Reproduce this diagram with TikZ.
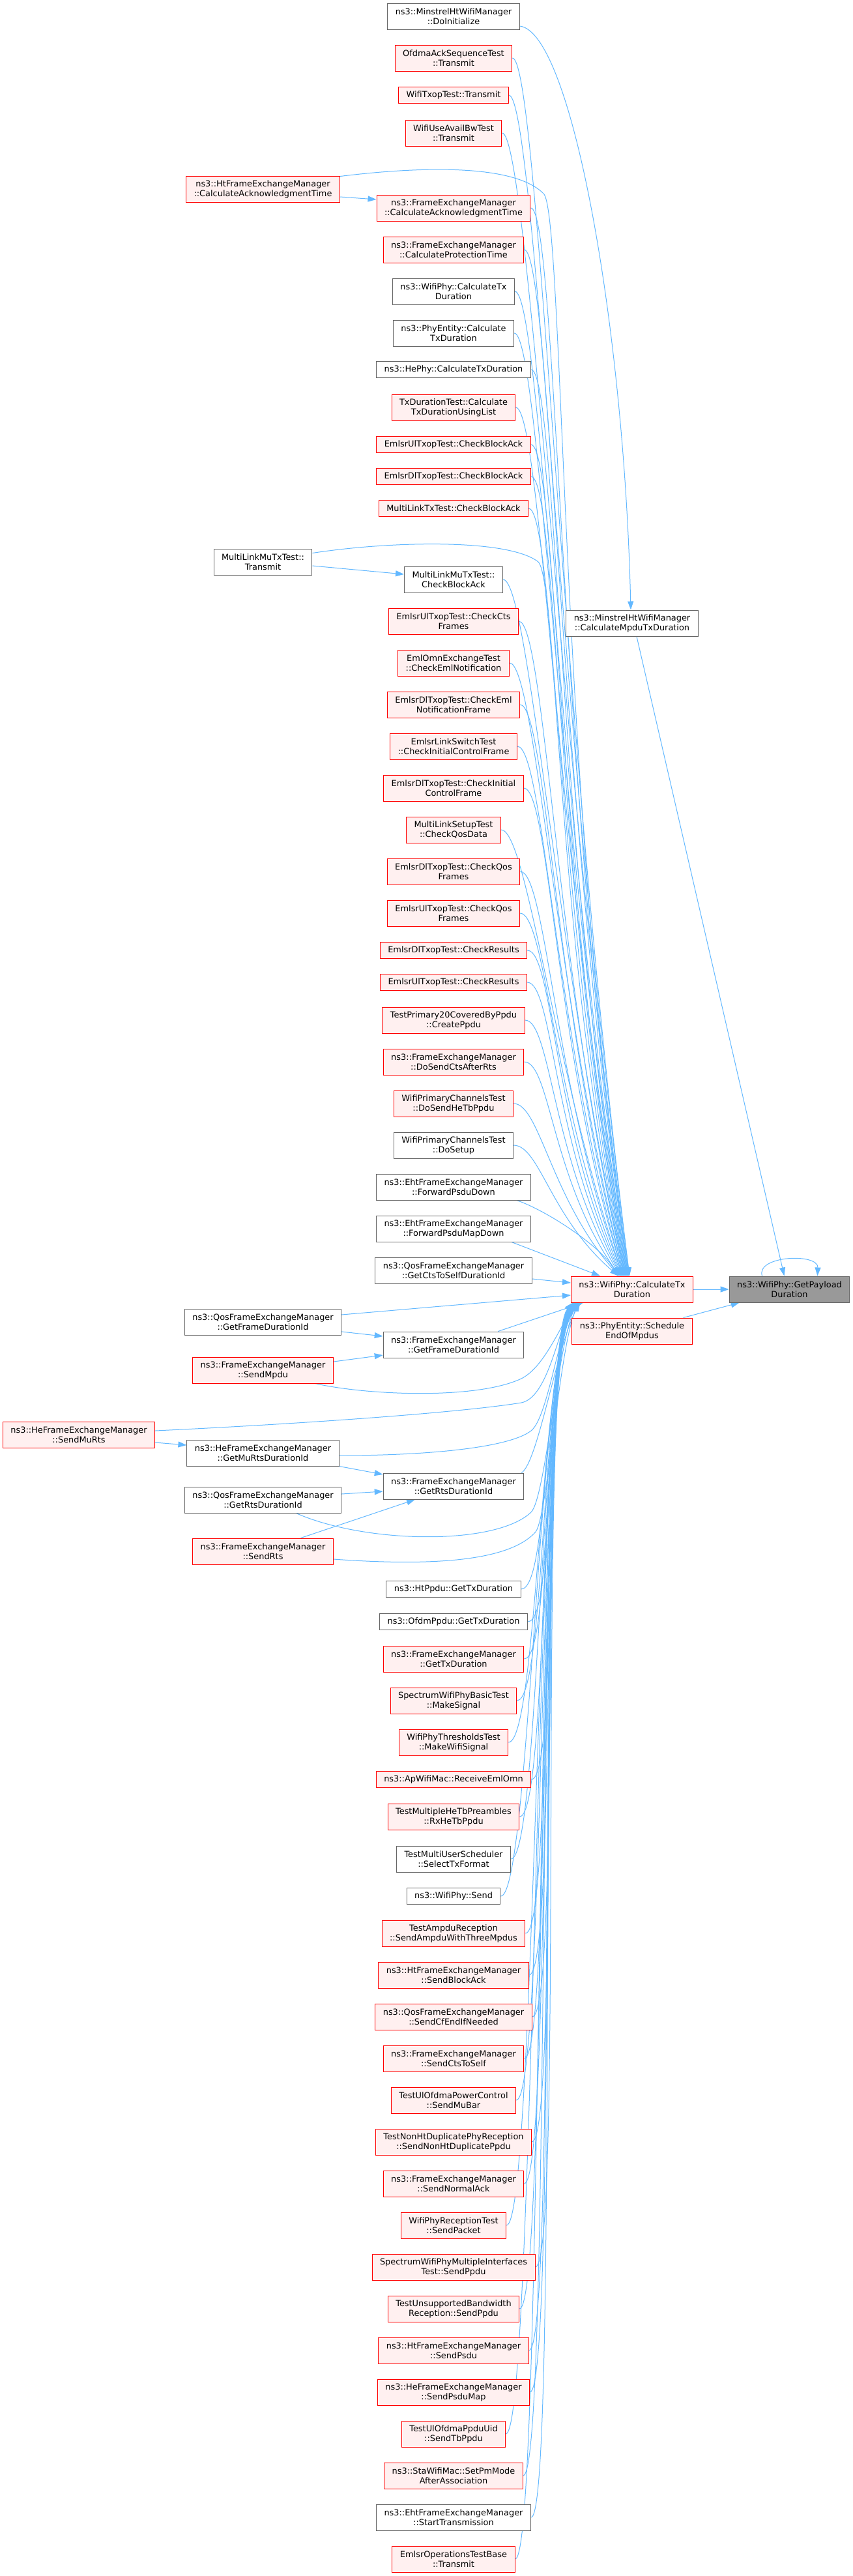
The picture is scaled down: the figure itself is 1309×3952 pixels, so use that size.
\documentclass[tikz,border=0pt]{standalone}
\usepackage{fontspec}
\setmainfont{DejaVu Sans}
\usepackage{tikz}
\usetikzlibrary{arrows.meta,backgrounds}
\definecolor{edgeblue}{HTML}{63B8FF}
\definecolor{boxgray}{HTML}{666666}
\definecolor{boxpink}{HTML}{FFF0F0}
\definecolor{boxred}{HTML}{FF0000}
\definecolor{maingray}{HTML}{999999}
\newcommand{\doxfont}{\fontsize{12.9pt}{15pt}\selectfont}

\begin{document}
\begin{tikzpicture}[x=1pt, y=-1pt,
    fnbox/.style={draw=boxgray, fill=white, line width=1pt, inner xsep=12pt, inner ysep=1pt, align=center, font=\doxfont},
    fnred/.style={fnbox, draw=boxred, fill=boxpink},
    fnmain/.style={fnbox, fill=maingray},
    two/.style={minimum height=40pt},
    one/.style={minimum height=25pt},
    calls/.style={draw=edgeblue, line width=1pt, -{Triangle[length=13pt,width=9pt]}}]
    \useasboundingbox (0,0) rectangle (1309,3952);

    % called functions
    \node[fnmain, two] (payload) at (1211.5,1978) {ns3::WifiPhy::GetPayload\\Duration};
    \node[fnred, two] (calctx) at (970,1978) {ns3::WifiPhy::CalculateTx\\Duration};
    \node[fnbox, two] (mpdutx) at (970,956) {ns3::MinstrelHtWifiManager\\::CalculateMpduTxDuration};
    \node[fnred, two] (schedmpdus) at (970,2042) {ns3::PhyEntity::Schedule\\EndOfMpdus};

    % callers of CalculateTxDuration
    \node[fnbox, two] (doinit) at (696,25) {ns3::MinstrelHtWifiManager\\::DoInitialize};
    \node[fnred, two] (ofdmatx) at (696,89) {OfdmaAckSequenceTest\\::Transmit};
    \node[fnred, one] (txoptx) at (696,146) {WifiTxopTest::Transmit};
    \node[fnred, two] (availbwtx) at (696,204) {WifiUseAvailBwTest\\::Transmit};
    \node[fnred, two] (fecalcack) at (696,319) {ns3::FrameExchangeManager\\::CalculateAcknowledgmentTime};
    \node[fnred, two] (fecalcprot) at (696,383) {ns3::FrameExchangeManager\\::CalculateProtectionTime};
    \node[fnbox, two] (phycalctx) at (696,447) {ns3::WifiPhy::CalculateTx\\Duration};
    \node[fnbox, two] (entitycalc) at (696,511) {ns3::PhyEntity::Calculate\\TxDuration};
    \node[fnbox, one] (hephycalc) at (696,567) {ns3::HePhy::CalculateTxDuration};
    \node[fnred, two] (txdurlist) at (696,625) {TxDurationTest::Calculate\\TxDurationUsingList};
    \node[fnred, one] (ulcheckba) at (696,682) {EmlsrUlTxopTest::CheckBlockAck};
    \node[fnred, one] (dlcheckba) at (696,731) {EmlsrDlTxopTest::CheckBlockAck};
    \node[fnred, one] (mltxcheckba) at (696,780) {MultiLinkTxTest::CheckBlockAck};
    \node[fnbox, two] (mlmucheckba) at (696,889) {MultiLinkMuTxTest::\\CheckBlockAck};
    \node[fnred, two] (ulctsframes) at (696,953) {EmlsrUlTxopTest::CheckCts\\Frames};
    \node[fnred, two] (omnnotif) at (696,1017) {EmlOmnExchangeTest\\::CheckEmlNotification};
    \node[fnred, two] (dlnotifframe) at (696,1081) {EmlsrDlTxopTest::CheckEml\\NotificationFrame};
    \node[fnred, two] (linkswitch) at (696,1145) {EmlsrLinkSwitchTest\\::CheckInitialControlFrame};
    \node[fnred, two] (dlinitctrl) at (696,1209) {EmlsrDlTxopTest::CheckInitial\\ControlFrame};
    \node[fnred, two] (mlsetupqos) at (696,1273) {MultiLinkSetupTest\\::CheckQosData};
    \node[fnred, two] (dlqosframes) at (696,1337) {EmlsrDlTxopTest::CheckQos\\Frames};
    \node[fnred, two] (ulqosframes) at (696,1401) {EmlsrUlTxopTest::CheckQos\\Frames};
    \node[fnred, one] (dlresults) at (696,1458) {EmlsrDlTxopTest::CheckResults};
    \node[fnred, one] (ulresults) at (696,1507) {EmlsrUlTxopTest::CheckResults};
    \node[fnred, two] (createppdu) at (696,1565) {TestPrimary20CoveredByPpdu\\::CreatePpdu};
    \node[fnred, two] (ctsafterrts) at (696,1629) {ns3::FrameExchangeManager\\::DoSendCtsAfterRts};
    \node[fnred, two] (sendhetb) at (696,1693) {WifiPrimaryChannelsTest\\::DoSendHeTbPpdu};
    \node[fnbox, two] (dosetup) at (696,1757) {WifiPrimaryChannelsTest\\::DoSetup};
    \node[fnbox, two] (fwdpsdu) at (696,1821) {ns3::EhtFrameExchangeManager\\::ForwardPsduDown};
    \node[fnbox, two] (fwdpsdumap) at (696,1885) {ns3::EhtFrameExchangeManager\\::ForwardPsduMapDown};
    \node[fnbox, two] (ctstoself) at (696,1949) {ns3::QosFrameExchangeManager\\::GetCtsToSelfDurationId};
    \node[fnbox, two] (fegetframe) at (696,2063) {ns3::FrameExchangeManager\\::GetFrameDurationId};
    \node[fnbox, two] (fegetrts) at (696,2280) {ns3::FrameExchangeManager\\::GetRtsDurationId};
    \node[fnbox, one] (htppdu) at (696,2438) {ns3::HtPpdu::GetTxDuration};
    \node[fnbox, one] (ofdmppdu) at (696,2488) {ns3::OfdmPpdu::GetTxDuration};
    \node[fnred, two] (fegettx) at (696,2545) {ns3::FrameExchangeManager\\::GetTxDuration};
    \node[fnred, two] (makesignal) at (696,2609) {SpectrumWifiPhyBasicTest\\::MakeSignal};
    \node[fnred, two] (makewifisig) at (696,2673) {WifiPhyThresholdsTest\\::MakeWifiSignal};
    \node[fnred, one] (recvemlomn) at (696,2730) {ns3::ApWifiMac::ReceiveEmlOmn};
    \node[fnred, two] (rxhetb) at (696,2787) {TestMultipleHeTbPreambles\\::RxHeTbPpdu};
    \node[fnbox, two] (selecttx) at (696,2852) {TestMultiUserScheduler\\::SelectTxFormat};
    \node[fnbox, one] (physend) at (696,2909) {ns3::WifiPhy::Send};
    \node[fnred, two] (ampdu3) at (696,2966) {TestAmpduReception\\::SendAmpduWithThreeMpdus};
    \node[fnred, two] (sendblockack) at (696,3030) {ns3::HtFrameExchangeManager\\::SendBlockAck};
    \node[fnred, two] (cfend) at (696,3094) {ns3::QosFrameExchangeManager\\::SendCfEndIfNeeded};
    \node[fnred, two] (ctstoselfsend) at (696,3158) {ns3::FrameExchangeManager\\::SendCtsToSelf};
    \node[fnred, two] (mubar) at (696,3222) {TestUlOfdmaPowerControl\\::SendMuBar};
    \node[fnred, two] (nonhtdup) at (696,3286) {TestNonHtDuplicatePhyReception\\::SendNonHtDuplicatePpdu};
    \node[fnred, two] (normalack) at (696,3350) {ns3::FrameExchangeManager\\::SendNormalAck};
    \node[fnred, two] (sendpacket) at (696,3414) {WifiPhyReceptionTest\\::SendPacket};
    \node[fnred, two] (multiifppdu) at (696,3478) {SpectrumWifiPhyMultipleInterfaces\\Test::SendPpdu};
    \node[fnred, two] (unsupppdu) at (696,3542) {TestUnsupportedBandwidth\\Reception::SendPpdu};
    \node[fnred, two] (sendpsdu) at (696,3606) {ns3::HtFrameExchangeManager\\::SendPsdu};
    \node[fnred, two] (sendpsdumap) at (696,3670) {ns3::HeFrameExchangeManager\\::SendPsduMap};
    \node[fnred, two] (sendtbppdu) at (696,3734) {TestUlOfdmaPpduUid\\::SendTbPpdu};
    \node[fnred, two] (setpmmode) at (696,3798) {ns3::StaWifiMac::SetPmMode\\AfterAssociation};
    \node[fnbox, two] (starttx) at (696,3862) {ns3::EhtFrameExchangeManager\\::StartTransmission};
    \node[fnred, two] (emlsrtx) at (696,3926) {EmlsrOperationsTestBase\\::Transmit};

    % second level callers
    \node[fnred, two] (htcalcack) at (403.5,290) {ns3::HtFrameExchangeManager\\::CalculateAcknowledgmentTime};
    \node[fnbox, two] (mlmutx) at (403.5,862) {MultiLinkMuTxTest::\\Transmit};
    \node[fnbox, two] (qosgetframe) at (403.5,2028) {ns3::QosFrameExchangeManager\\::GetFrameDurationId};
    \node[fnred, two] (sendmpdu) at (403.5,2102) {ns3::FrameExchangeManager\\::SendMpdu};
    \node[fnbox, two] (getmurts) at (403.5,2229) {ns3::HeFrameExchangeManager\\::GetMuRtsDurationId};
    \node[fnbox, two] (qosgetrts) at (403.5,2301) {ns3::QosFrameExchangeManager\\::GetRtsDurationId};
    \node[fnred, two] (sendrts) at (403.5,2380) {ns3::FrameExchangeManager\\::SendRts};
    \node[fnred, two] (sendmurts) at (121,2201) {ns3::HeFrameExchangeManager\\::SendMuRts};

    \begin{scope}[on background layer]
    % into GetPayloadDuration
    \draw[calls] (calctx.east) -- (payload.west);
    \draw[calls] ([xshift=-14]schedmpdus.north east) -- ([xshift=16]payload.south west);
    \draw[calls] ([xshift=7]mpdutx.south) -- ([xshift=-8]payload.north);
    \draw[calls] ([xshift=-42]payload.north) .. controls (1160,1926) and (1256,1922) .. ([xshift=43]payload.north);
    \draw[calls] ([yshift=-15]doinit.east) .. controls +(80,10) and +(-10,-430) .. ([xshift=-2]mpdutx.north);

    % from above into CalculateTxDuration
    \draw[calls] (ofdmatx.east) .. controls +(40,0) and +(-105,-841) .. ([xshift=90]calctx.north west);
    \draw[calls] (txoptx.east) .. controls +(40,0) and +(-105,-815) .. ([xshift=90]calctx.north west);
    \draw[calls] (availbwtx.east) .. controls +(40,0) and +(-105,-789) .. ([xshift=89]calctx.north west);
    \draw[calls] ([yshift=-1]htcalcack.north east) .. controls (640,256) and (790,250) .. (835,298)
        .. controls +(30,45) and +(-105,-738) .. ([xshift=89]calctx.north west);
    \draw[calls] ([yshift=-12]htcalcack.east) -- ([yshift=13]fecalcack.west);
    \draw[calls] (fecalcack.east) .. controls +(40,0) and +(-105,-738) .. ([xshift=88]calctx.north west);
    \draw[calls] (fecalcprot.east) .. controls +(40,0) and +(-105,-709) .. ([xshift=88]calctx.north west);
    \draw[calls] (phycalctx.east) .. controls +(40,0) and +(-105,-680) .. ([xshift=87]calctx.north west);
    \draw[calls] (entitycalc.east) .. controls +(40,0) and +(-105,-651) .. ([xshift=87]calctx.north west);
    \draw[calls] (hephycalc.east) .. controls +(40,0) and +(-105,-626) .. ([xshift=86]calctx.north west);
    \draw[calls] (txdurlist.east) .. controls +(40,0) and +(-105,-600) .. ([xshift=86]calctx.north west);
    \draw[calls] (ulcheckba.east) .. controls +(40,0) and +(-105,-574) .. ([xshift=85]calctx.north west);
    \draw[calls] (dlcheckba.east) .. controls +(40,0) and +(-105,-552) .. ([xshift=85]calctx.north west);
    \draw[calls] (mltxcheckba.east) .. controls +(40,0) and +(-105,-530) .. ([xshift=84]calctx.north west);
    \draw[calls] ([yshift=-7]mlmutx.north east) .. controls (600,830) and (780,826) .. (826,862)
        .. controls +(30,30) and +(-105,-481) .. ([xshift=84]calctx.north west);
    \draw[calls] ([yshift=-6]mlmutx.east) -- ([yshift=8]mlmucheckba.west);
    \draw[calls] (mlmucheckba.east) .. controls +(40,0) and +(-105,-481) .. ([xshift=83]calctx.north west);
    \draw[calls] (ulctsframes.east) .. controls +(40,0) and +(-105,-452) .. ([xshift=83]calctx.north west);
    \draw[calls] (omnnotif.east) .. controls +(40,0) and +(-105,-423) .. ([xshift=82]calctx.north west);
    \draw[calls] (dlnotifframe.east) .. controls +(40,0) and +(-105,-394) .. ([xshift=82]calctx.north west);
    \draw[calls] (linkswitch.east) .. controls +(40,0) and +(-105,-366) .. ([xshift=81]calctx.north west);
    \draw[calls] (dlinitctrl.east) .. controls +(40,0) and +(-105,-337) .. ([xshift=81]calctx.north west);
    \draw[calls] (mlsetupqos.east) .. controls +(40,0) and +(-105,-308) .. ([xshift=80]calctx.north west);
    \draw[calls] (dlqosframes.east) .. controls +(40,0) and +(-105,-279) .. ([xshift=80]calctx.north west);
    \draw[calls] (ulqosframes.east) .. controls +(40,0) and +(-105,-251) .. ([xshift=79]calctx.north west);
    \draw[calls] (dlresults.east) .. controls +(40,0) and +(-105,-225) .. ([xshift=78]calctx.north west);
    \draw[calls] (ulresults.east) .. controls +(40,0) and +(-105,-203) .. ([xshift=77]calctx.north west);
    \draw[calls] (createppdu.east) .. controls +(40,0) and +(-105,-177) .. ([xshift=76]calctx.north west);
    \draw[calls] (ctsafterrts.east) .. controls +(40,0) and +(-105,-148) .. ([xshift=75]calctx.north west);
    \draw[calls] (sendhetb.east) .. controls +(40,0) and +(-105,-119) .. ([xshift=74]calctx.north west);
    \draw[calls] (dosetup.east) .. controls +(40,0) and +(-105,-90) .. ([xshift=73]calctx.north west);
    \draw[calls] ([xshift=-22]fwdpsdu.south east) .. controls +(45,15) and +(-25,-45) .. ([xshift=72]calctx.north west);
    \draw[calls] ([xshift=-30]fwdpsdumap.south east) -- ([xshift=45]calctx.north west);
    \draw[calls] ([yshift=-13]ctstoself.east) -- ([yshift=10]calctx.west);

    % GetFrameDurationId and GetRtsDurationId
    \draw[calls] ([yshift=11]qosgetframe.east) -- ([yshift=-9]calctx.west);
    \draw[calls] ([yshift=-15]qosgetframe.east) -- ([yshift=13]fegetframe.west);
    \draw[calls] ([yshift=13]sendmpdu.east) -- ([yshift=-16]fegetframe.west);
    \draw[calls] ([xshift=-28]sendmpdu.south east) .. controls (560,2140) and (730,2148) .. (800,2115)
        .. controls +(30,-15) and +(-30,55) .. ([xshift=6]calctx.south west);
    \draw[calls] ([xshift=-40]fegetframe.north east) -- ([xshift=19]calctx.south west);
    \draw[calls] ([yshift=6]sendmurts.east) .. controls (450,2185) and (700,2168) .. (800,2152)
        .. controls +(40,-8) and +(-25,50) .. ([xshift=4]calctx.south west);
    \draw[calls] ([yshift=-12]sendmurts.east) -- ([yshift=12]getmurts.west);
    \draw[calls] ([yshift=-4]getmurts.east) .. controls (650,2233) and (780,2222) .. (815,2195)
        .. controls +(25,-20) and +(-30,60) .. ([xshift=8]calctx.south west);
    \draw[calls] (getmurts.south east) -- ([yshift=18]fegetrts.west);
    \draw[calls] ([yshift=9]qosgetrts.east) -- ([yshift=-8]fegetrts.west);
    \draw[calls] ([xshift=51]qosgetrts.south) .. controls (560,2368) and (760,2372) .. (815,2320)
        .. controls +(22,-22) and +(-30,65) .. ([xshift=10]calctx.south west);
    \draw[calls] ([xshift=58]sendrts.north) -- ([xshift=-59]fegetrts.south);
    \draw[calls] ([yshift=-12]sendrts.east) .. controls (650,2402) and (780,2398) .. (822,2350)
        .. controls +(18,-22) and +(-30,70) .. ([xshift=12]calctx.south west);
    \draw[calls] ([xshift=-4]fegetrts.north east) .. controls +(25,-15) and +(-35,65) .. ([xshift=14]calctx.south west);

    % from below into CalculateTxDuration
    \draw[calls] (htppdu.east) .. controls +(45,0) and +(-60,70) .. ([xshift=15]calctx.south west);
    \draw[calls] (ofdmppdu.east) .. controls +(45,0) and +(-60,70) .. ([xshift=15]calctx.south west);
    \draw[calls] (fegettx.east) .. controls +(45,0) and +(-60,70) .. ([xshift=14]calctx.south west);
    \draw[calls] (makesignal.east) .. controls +(45,0) and +(-60,70) .. ([xshift=14]calctx.south west);
    \draw[calls] (makewifisig.east) .. controls +(45,0) and +(-60,70) .. ([xshift=13]calctx.south west);
    \draw[calls] (recvemlomn.east) .. controls +(45,0) and +(-60,70) .. ([xshift=13]calctx.south west);
    \draw[calls] (rxhetb.east) .. controls +(45,0) and +(-60,70) .. ([xshift=12]calctx.south west);
    \draw[calls] (selecttx.east) .. controls +(45,0) and +(-60,70) .. ([xshift=12]calctx.south west);
    \draw[calls] (physend.east) .. controls +(45,0) and +(-60,70) .. ([xshift=11]calctx.south west);
    \draw[calls] (ampdu3.east) .. controls +(45,0) and +(-60,70) .. ([xshift=11]calctx.south west);
    \draw[calls] (sendblockack.east) .. controls +(45,0) and +(-60,70) .. ([xshift=10]calctx.south west);
    \draw[calls] (cfend.east) .. controls +(45,0) and +(-60,70) .. ([xshift=10]calctx.south west);
    \draw[calls] (ctstoselfsend.east) .. controls +(45,0) and +(-60,70) .. ([xshift=9]calctx.south west);
    \draw[calls] (mubar.east) .. controls +(45,0) and +(-60,70) .. ([xshift=9]calctx.south west);
    \draw[calls] (nonhtdup.east) .. controls +(45,0) and +(-60,70) .. ([xshift=8]calctx.south west);
    \draw[calls] (normalack.east) .. controls +(45,0) and +(-60,70) .. ([xshift=8]calctx.south west);
    \draw[calls] (sendpacket.east) .. controls +(45,0) and +(-60,70) .. ([xshift=7]calctx.south west);
    \draw[calls] (multiifppdu.east) .. controls +(45,0) and +(-60,70) .. ([xshift=7]calctx.south west);
    \draw[calls] (unsupppdu.east) .. controls +(45,0) and +(-60,70) .. ([xshift=6]calctx.south west);
    \draw[calls] (sendpsdu.east) .. controls +(45,0) and +(-60,70) .. ([xshift=6]calctx.south west);
    \draw[calls] (sendpsdumap.east) .. controls +(45,0) and +(-60,70) .. ([xshift=5]calctx.south west);
    \draw[calls] (sendtbppdu.east) .. controls +(45,0) and +(-60,70) .. ([xshift=5]calctx.south west);
    \draw[calls] (setpmmode.east) .. controls +(45,0) and +(-60,70) .. ([xshift=4]calctx.south west);
    \draw[calls] (starttx.east) .. controls +(45,0) and +(-60,70) .. ([xshift=4]calctx.south west);
    \draw[calls] (emlsrtx.east) .. controls +(45,0) and +(-60,70) .. ([xshift=3]calctx.south west);
    \end{scope}
\end{tikzpicture}
\end{document}
